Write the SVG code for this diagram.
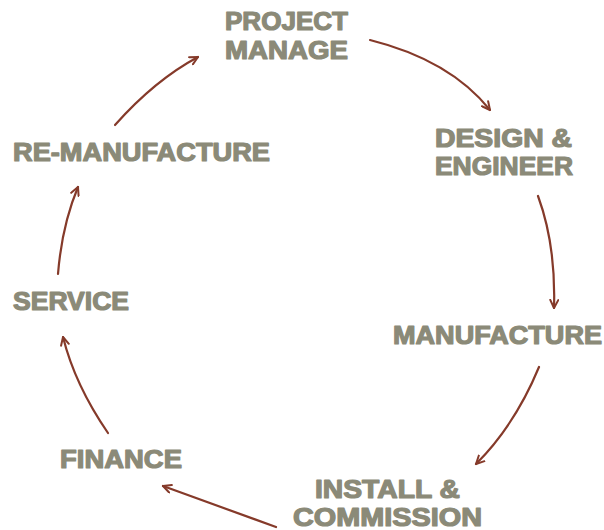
<svg xmlns="http://www.w3.org/2000/svg" width="604" height="530" viewBox="0 0 604 530">
  <defs>
    <marker id="head" viewBox="0 0 10 10" refX="9" refY="5" markerWidth="10" markerHeight="10" markerUnits="userSpaceOnUse" orient="auto">
      <path d="M1,1 L9,5 L1,9" fill="none" stroke="#853a2a" stroke-width="2" stroke-linecap="round" stroke-linejoin="round"/>
    </marker>
    <style>
      .lbl { font-family: "Liberation Sans", Arial, sans-serif; font-weight: bold; font-size: 25px; fill: #8b8a78; stroke: #8b8a78; stroke-width: 1.2; stroke-linejoin: round; }
      .link { fill: none; stroke: #853a2a; stroke-width: 2.2; stroke-linecap: round; marker-end: url(#head); }
    </style>
  </defs>
  <rect width="604" height="530" fill="#ffffff"/>

  <g id="connectors">
    <path class="link" d="M370,40 Q450,60 490,110"/>
    <path class="link" d="M538,196 Q556,245 554,308"/>
    <path class="link" d="M539,367 Q515,425 476,464"/>
    <path class="link" d="M276,527 Q215,505 163,486"/>
    <path class="link" d="M108,433 Q75,385 63,337"/>
    <path class="link" d="M58,274 Q62,225 78,187"/>
    <path class="link" d="M115,125 Q155,80 198,57"/>
  </g>

  <g id="project-manage">
    <text class="lbl" x="225" y="30" textLength="123" lengthAdjust="spacingAndGlyphs">PROJECT</text>
    <text class="lbl" x="225" y="59" textLength="123" lengthAdjust="spacingAndGlyphs">MANAGE</text>
  </g>
  <g id="design-engineer">
    <text class="lbl" x="435" y="147" textLength="137" lengthAdjust="spacingAndGlyphs">DESIGN &amp;</text>
    <text class="lbl" x="435" y="175" textLength="138" lengthAdjust="spacingAndGlyphs">ENGINEER</text>
  </g>
  <g id="manufacture">
    <text class="lbl" x="393" y="344" textLength="209" lengthAdjust="spacingAndGlyphs">MANUFACTURE</text>
  </g>
  <g id="install-commission">
    <text class="lbl" x="315" y="498" textLength="145" lengthAdjust="spacingAndGlyphs">INSTALL &amp;</text>
    <text class="lbl" x="293" y="526" font-size="24" textLength="189" lengthAdjust="spacingAndGlyphs">COMMISSION</text>
  </g>
  <g id="finance">
    <text class="lbl" x="60" y="468" textLength="122" lengthAdjust="spacingAndGlyphs">FINANCE</text>
  </g>
  <g id="service">
    <text class="lbl" x="13" y="310" textLength="116" lengthAdjust="spacingAndGlyphs">SERVICE</text>
  </g>
  <g id="re-manufacture">
    <text class="lbl" x="13" y="161" textLength="257" lengthAdjust="spacingAndGlyphs">RE-MANUFACTURE</text>
  </g>
</svg>
